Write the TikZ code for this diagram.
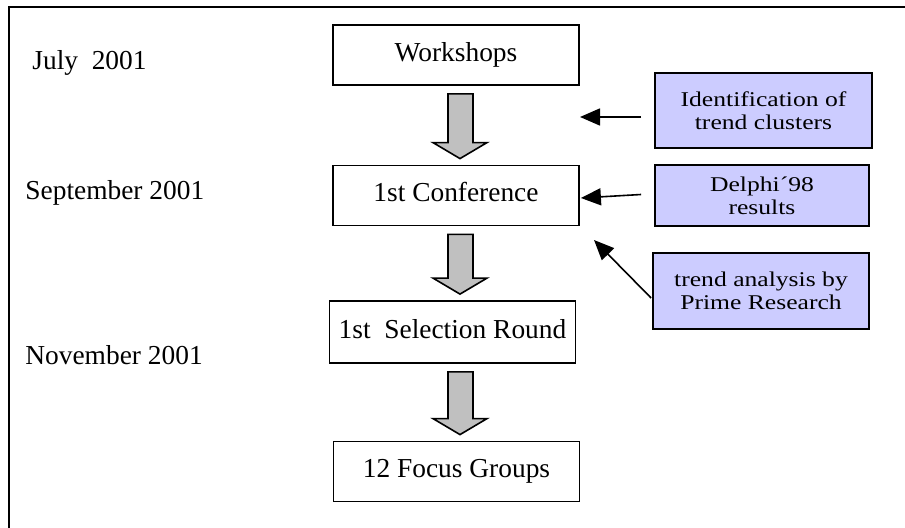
\documentclass[tikz,border=0pt]{standalone}
\usepackage{fontspec}
\setmainfont{Liberation Serif}
\newfontfamily\boxfont[FakeStretch=1.22]{Liberation Serif}
\usetikzlibrary{arrows.meta}
\usetikzlibrary{calc}

\definecolor{lavender}{RGB}{204,204,255}
\definecolor{silver}{RGB}{192,192,192}

\begin{document}
\begin{tikzpicture}[x=0.5pt,y=-0.5pt,
  phase/.style={draw, line width=0.9pt, minimum width=123pt, minimum height=30pt,
    inner sep=0pt, text height=9.5pt, text depth=3pt, font=\fontsize{13.7}{16}\selectfont},
  source/.style={draw, line width=0.9pt, fill=lavender, inner sep=0pt, align=center,
    font=\boxfont\fontsize{10.5}{11.5}\selectfont},
  date/.style={anchor=base west, inner sep=0pt, font=\fontsize{13.7}{16}\selectfont},
  feed/.style={line width=0.8pt, -{Triangle[length=10pt,width=8.5pt]}},
  blockarrow/.style={draw, line width=0.8pt, fill=silver}]

  \useasboundingbox (0,0) rectangle (905,528);
  \draw[line width=1pt] (9,528) -- (9,7) -- (905,7);

  % dates
  \node[date] (jul) at (32,70) {July\ \ 2001};
  \node[date] (sep) at (25,200) {September 2001};
  \node[date] (nov) at (25,365) {November 2001};

  % process
  \node[phase] (ws) at (456,55) {Workshops};
  \node[phase] (conf) at (456,195.5) {1st Conference};
  \node[phase, minimum height=31pt] (sel) at (452.5,332) {1st\ \ Selection Round};
  \node[phase] (focus) at (456.5,471.5) {12 Focus Groups};

  \foreach \a/\b in {ws/conf,conf/sel,sel/focus}
    \draw[blockarrow] ($(ws.south |- \a.south)+(-8,8)$) -- ($(ws.south |- \a.south)+(17,8)$)
      -- ($(ws.south |- \b.north)+(17,-22)$) -- ($(ws.south |- \b.north)+(31,-22)$)
      -- ($(ws.south |- \b.north)+(4,-6)$) -- ($(ws.south |- \b.north)+(-23,-22)$)
      -- ($(ws.south |- \b.north)+(-8,-22)$) -- cycle;

  % inputs
  \node[source, minimum width=108.5pt, minimum height=37.5pt] (idf) at (763.5,110.5)
    {Identification of\\trend clusters};
  \node[source, minimum width=107pt, minimum height=30.5pt] (delphi) at (762,195.5)
    {Delphi´98\\results};
  \node[source, minimum width=108pt, minimum height=38pt] (trend) at (761,291)
    {trend analysis by\\Prime Research};

  \coordinate (idfend) at (580,117);
  \coordinate (trendend) at (594,240);

  \draw[feed] ($(idf.west)+(-13,6.5)$) -- (idfend);
  \draw[feed] ($(delphi.west)+(-13,-1)$) -- ($(conf.east)+(1,2.5)$);
  \draw[feed] ($(trend.west)+(-1,7)$) -- (trendend);
\end{tikzpicture}
\end{document}
